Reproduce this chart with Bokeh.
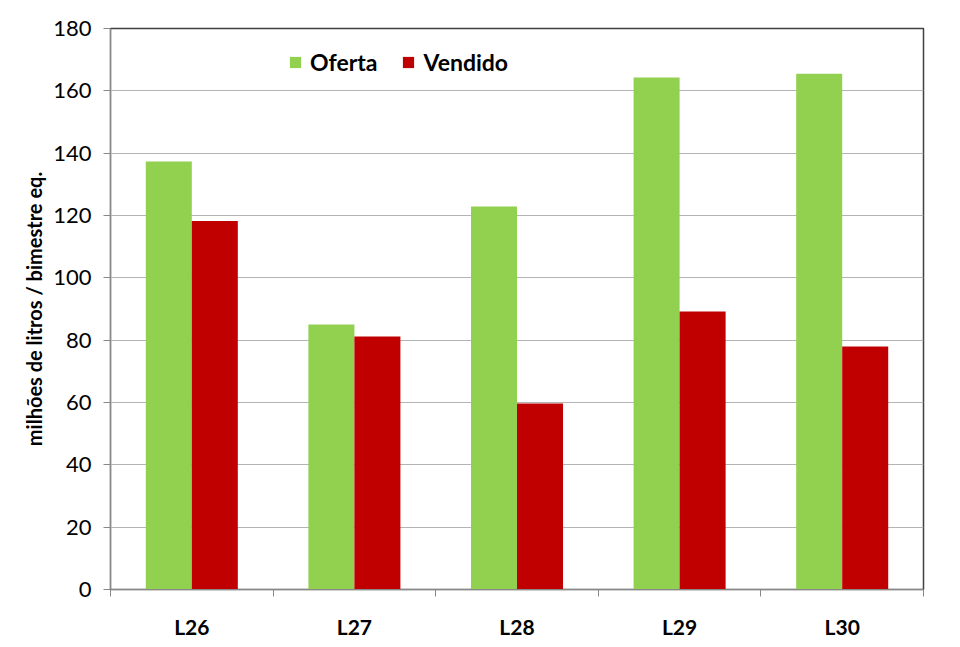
from bokeh.plotting import figure
from bokeh.models import ColumnDataSource, FixedTicker, Legend, LegendItem, Range1d
from bokeh.transform import dodge
from bokeh.embed import file_html
from bokeh.resources import INLINE

categories = ["L26", "L27", "L28", "L29", "L30"]
oferta = [137.3, 85.0, 122.9, 164.3, 165.5]
vendido = [118.2, 81.2, 59.7, 89.2, 78.0]
y_ticks = [0, 20, 40, 60, 80, 100, 120, 140, 160, 180]

FONT = "Lato"
pos = [i + 0.5 for i in range(len(categories))]
src = ColumnDataSource(dict(x=pos, cat=categories, oferta=oferta, vendido=vendido))

p = figure(frame_width=813, frame_height=561, width=960, height=647,
           x_range=Range1d(0, len(categories)), y_range=Range1d(0, 180),
           output_backend="svg", toolbar_location=None,
           min_border_left=110, min_border_right=37, min_border_top=28, min_border_bottom=58)
p.background_fill_color = "white"
p.border_fill_color = "white"
p.outline_line_color = "#404040"
p.outline_line_width = 1.5

bw = 0.283
r1 = p.vbar(x=dodge("x", -bw / 2, range=p.x_range), top="oferta", width=bw, source=src,
            fill_color="#92D050", line_color=None)
r2 = p.vbar(x=dodge("x", bw / 2, range=p.x_range), top="vendido", width=bw, source=src,
            fill_color="#C00000", line_color=None)

# x axis
p.xaxis.ticker = FixedTicker(ticks=pos, minor_ticks=list(range(len(categories) + 1)))
p.xaxis.major_label_overrides = {x: c for x, c in zip(pos, categories)}
p.xaxis.major_tick_line_color = None
p.xaxis.minor_tick_line_color = "#888888"
p.xaxis.minor_tick_in = 0
p.xaxis.minor_tick_out = 7
p.xaxis.axis_line_color = "#888888"
p.xaxis.major_label_text_font = FONT
p.xaxis.major_label_text_font_style = "bold"
p.xaxis.major_label_text_font_size = "21px"
p.xaxis.major_label_text_color = "black"
p.xaxis.major_label_standoff = 17
p.xgrid.visible = False

# y axis
p.yaxis.ticker = FixedTicker(ticks=y_ticks)
p.yaxis.minor_tick_line_color = None
p.yaxis.major_tick_in = 0
p.yaxis.major_tick_out = 7
p.yaxis.major_tick_line_color = "#888888"
p.yaxis.axis_line_color = "#888888"
p.yaxis.major_label_text_font = FONT
p.yaxis.major_label_text_font_size = "22px"
p.yaxis.major_label_text_color = "black"
p.yaxis.major_label_standoff = 12
p.yaxis.axis_label = "milhões de litros / bimestre eq."
p.yaxis.axis_label_text_font = FONT
p.yaxis.axis_label_text_font_style = "bold"
p.yaxis.axis_label_text_font_size = "20px"
p.yaxis.axis_label_text_color = "black"
p.yaxis.axis_label_standoff = 4
p.ygrid.grid_line_color = "#b4b4b4"

legend = Legend(items=[LegendItem(label="Oferta", renderers=[r1]),
                       LegendItem(label="Vendido", renderers=[r2])],
                orientation="horizontal", location=(178, 513),
                label_text_font=FONT, label_text_font_style="bold",
                label_text_color="black",
                label_text_font_size="23px", glyph_width=14, glyph_height=14,
                spacing=24, label_standoff=8, background_fill_alpha=0,
                border_line_color=None, padding=0, margin=0)
p.add_layout(legend)

open("out.html", "w").write(file_html(p, INLINE))
